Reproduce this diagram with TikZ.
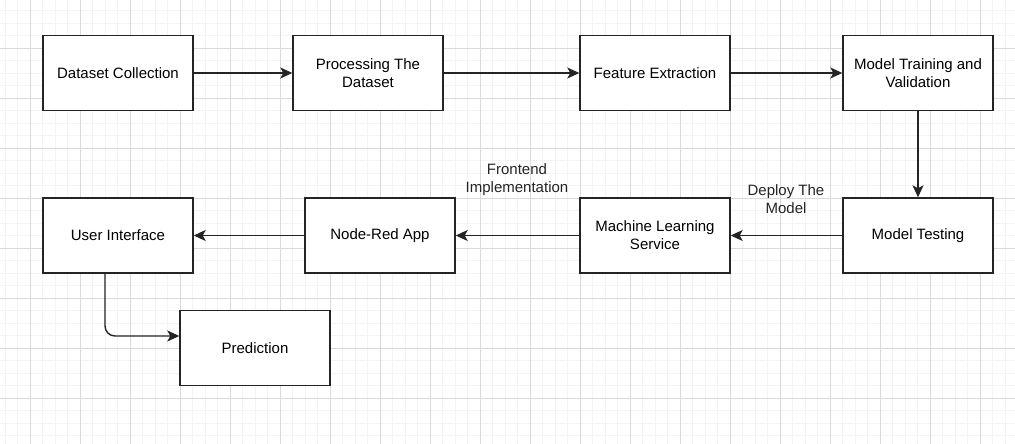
\documentclass[tikz,border=0pt]{standalone}
\usepackage{fontspec}
\setmainfont{Liberation Sans}
\usepackage{tikz}
\usetikzlibrary{calc,arrows.meta,positioning}
\definecolor{gridminor}{RGB}{244,244,244}
\definecolor{gridmajor}{RGB}{218,218,218}
\definecolor{boxline}{RGB}{36,36,36}

\begin{document}
\begin{tikzpicture}[x=1pt, y=-1pt,
  stagebox/.style={draw=boxline, line width=1.4pt, fill=white, minimum width=150pt, minimum height=75pt, align=center, inner sep=2pt, font=\fontsize{15}{18}\selectfont},
  flow/.style={draw=boxline, line width=1.4pt, -{Stealth[length=12pt, width=11pt, inset=3pt]}},
  flowlabel/.style={align=center, text=boxline, font=\fontsize{15}{18}\selectfont}]
  \useasboundingbox (0,0) rectangle (1015,444);
  % Background grid
  \foreach \x in {5,17.5,...,1015} \draw[gridminor, line width=0.8pt] (\x,0) -- (\x,444);
  \foreach \y in {10.5,23,...,444} \draw[gridminor, line width=0.8pt] (0,\y) -- (1015,\y);
  \foreach \x in {30,80,...,1015} \draw[gridmajor, line width=0.8pt] (\x,0) -- (\x,444);
  \foreach \y in {48,98,...,444} \draw[gridmajor, line width=0.8pt] (0,\y) -- (1015,\y);

  % Top row
  \node[stagebox] (collect) at (118,73) {Dataset Collection};
  \node[stagebox] (process) at (368,73) {Processing The\\Dataset};
  \node[stagebox] (feature) at (655,73) {Feature Extraction};
  \node[stagebox] (train) at (918,73) {Model Training and\\Validation};

  % Bottom row
  \node[stagebox] (test) at (918,235.5) {Model Testing};
  \node[stagebox] (service) at (655,235.5) {Machine Learning\\Service};
  \node[stagebox] (nodered) at (380,235.5) {Node-Red App};
  \node[stagebox] (ui) at (118,235.5) {User Interface};
  \node[stagebox] (predict) at (255,348) {Prediction};

  % Connectors
  \draw[flow] (collect) -- (process);
  \draw[flow] (process) -- (feature);
  \draw[flow] (feature) -- (train);
  \draw[flow] (train) -- (test);
  \draw[flow] (test) -- (service);
  \draw[flow] (service) -- (nodered);
  \draw[flow] (nodered) -- (ui);
  \draw[flow, rounded corners=10pt] ($(ui.south)+(-13,0)$) |- ($(predict.west)+(0,-12)$);

  % Labels
  \node[flowlabel] (deploylabel) at (786,199) {Deploy The\\Model};
  \node[flowlabel] (frontlabel) at (517,180) {Frontend\\Implementation};
\end{tikzpicture}
\end{document}
